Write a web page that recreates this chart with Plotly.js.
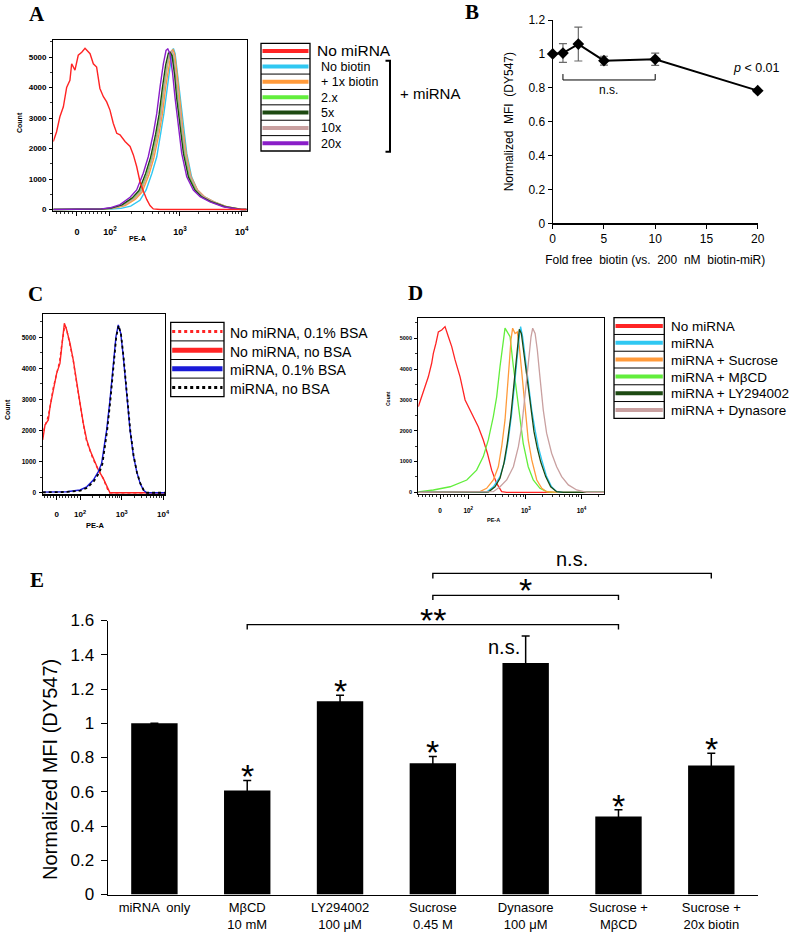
<!DOCTYPE html>
<html><head><meta charset="utf-8">
<script src="https://cdn.plot.ly/plotly-3.0.1.min.js"></script>
<style>html,body{margin:0;padding:0;background:#fff}#g{width:800px;height:933px}</style>
</head><body><div id="g"></div>
<script>
// ================= DATA =================
// Flow axis tick labels (biexponential display, channel scale 0-1000)
const flowTickText = ['0', '10<sup>2</sup>', '10<sup>3</sup>', '10<sup>4</sup>'];
const flowCountTicks = [0, 1000, 2000, 3000, 4000, 5000];

// ---- Panel A: histograms (channel, count) ----
const aLegend = ['No miRNA', 'No biotin', '+ 1x biotin', '2.x', '5x', '10x', '20x'];
const aColors = ['#ff2424', '#30c8f2', '#ff9a3a', '#62ee3c', '#1d4a12', '#c9a0a0', '#8a1ec8'];
const aNoMiRNA_x = [0,17,34,52,69,86,95,112,129,147,164,181,190,207,224,241,259,276,293,310,328,345,371,397,414,431,448,466,483,500,517,552,1000];
const aNoMiRNA_y = [2230,2550,3040,3370,4000,4240,4780,4570,5060,5160,5290,5160,5110,4780,4670,3970,3700,3530,3260,2830,2500,2450,2230,2070,1790,1410,920,600,330,130,20,0,0];
const aNoBiotin_x = [0,200,300,350,400,448,480,510,535,555,572,590,605,615,621,630,642,655,672,690,715,745,780,830,890,970,1000];
const aNoBiotin_y = [0,5,15,35,110,300,640,1190,1730,2490,3150,4020,4780,5220,5280,5110,4460,3690,2710,1840,1070,640,420,250,90,0,0];
const a1x_x = [0,150,250,312,372,425,460,494,520,546,564,581,598,611,619,628,640,652,669,687,712,746,782,832,897,978,1000];
const a1x_y = [0,5,12,38,130,340,580,1130,1690,2460,3130,4010,4770,5200,5240,5090,4450,3670,2700,1840,1070,640,415,250,90,0,0];
const a2x_x = [0,150,250,305,362,415,450,484,510,536,554,571,588,602,610,620,633,645,662,680,706,740,775,826,893,975,1000];
const a2x_y = [0,5,15,40,140,360,600,1150,1700,2460,3100,3960,4700,5080,5110,5000,4400,3640,2680,1830,1060,630,410,245,90,0,0];
const a5x_x = [0,150,250,300,355,408,443,477,503,529,547,564,581,595,603,614,627,638,655,673,699,733,768,820,888,972,1000];
const a5x_y = [0,5,15,45,150,380,620,1170,1710,2470,3120,3990,4740,5130,5160,5050,4420,3650,2690,1830,1060,630,410,245,90,0,0];
const a10x_x = [0,150,250,307,365,418,453,487,513,539,557,574,591,605,613,623,636,648,665,683,709,743,778,829,895,976,1000];
const a10x_y = [0,5,15,40,140,350,590,1140,1690,2450,3110,3990,4750,5160,5200,5060,4430,3660,2700,1840,1070,635,415,250,90,0,0];
const a20x_x = [0,150,250,293,345,397,431,465,491,517,535,552,569,583,592,603,617,629,646,664,690,724,759,810,879,966,1000];
const a20x_y = [0,5,20,55,160,400,640,1190,1730,2490,3150,4020,4780,5220,5270,5110,4460,3690,2710,1840,1070,640,420,250,90,0,0];

// ---- Panel B: normalized MFI vs fold free biotin ----
const bFold = [0, 1, 2.5, 5, 10, 20];
const bMFI  = [1.0, 1.005, 1.058, 0.96, 0.968, 0.783];
const bErr  = [0, 0.055, 0.1, 0.026, 0.036, 0.01];
const bNsFrom = 1, bNsTo = 10, bNsLevel = 0.846, bNsTip = 0.881;

// ---- Panel C ----
const cLegend = ['No miRNA, 0.1% BSA', 'No miRNA, no BSA', 'miRNA, 0.1% BSA', 'miRNA, no BSA'];
const cColors = ['#ff2424', '#ff2424', '#1a1ad8', '#000000'];
const cNoMiBSA_x = [0,15,40,58,85,110,138,152,165,180,193,205,220,248,275,303,330,358,385,412,452,492,532,548,1000];
const cNoMiBSA_y = [1800,2100,2400,2700,3350,3780,4220,4650,5080,5380,5300,5100,4760,4300,3600,2850,2260,1680,1400,1080,760,480,100,0,0];
const cNoMiNo_x = [0,19,46,60,87,114,141,155,168,177,196,209,223,250,278,305,332,360,387,414,455,495,536,550,1000];
const cNoMiNo_y = [1700,2180,2340,2770,3300,3840,4160,4590,5130,5450,5240,5070,4810,4270,3630,2880,2230,1700,1370,1110,730,460,90,0,0];
const cMiBSA_x = [0,196,305,360,414,455,482,495,523,550,577,599,618,638,659,687,714,741,769,796,823,850,1000];
const cMiBSA_y = [20,30,90,190,410,680,950,1280,2020,2980,4110,5020,5400,5130,4380,3140,2020,1210,670,310,90,0,0];
const cMiNo_x = [0,200,310,365,420,462,488,500,527,553,580,601,620,640,661,689,716,743,771,798,826,853,1000];
const cMiNo_y = [15,25,70,160,380,640,920,1250,2000,2960,4080,5000,5380,5110,4360,3120,2000,1200,650,300,80,0,0];

// ---- Panel D ----
const dLegend = ['No miRNA', 'miRNA', 'miRNA + Sucrose', 'miRNA + MβCD', 'miRNA + LY294002', 'miRNA + Dynasore'];
const dColors = ['#ff2424', '#30c8f2', '#ff9a3a', '#62ee3c', '#1d4a12', '#c9a0a0'];
const dNoMi_x = [0,18,36,54,72,81,95,108,126,144,162,180,198,225,252,278,296,323,350,372,395,422,449,476,1000];
const dNoMi_y = [2780,3100,3430,3750,4190,4510,4840,5210,5270,5380,5050,4730,4300,3750,3000,2670,2460,2130,1700,1270,720,290,20,0,0];
const dMi_x = [0,368,404,440,467,485,503,521,533,544,551,562,575,592,611,629,646,665,691,718,745,781,1000];
const dMi_y = [0,10,180,510,1050,1700,2560,3540,4400,5050,5380,5050,4400,3430,2670,2020,1480,1050,510,180,20,0,0];
const dSuc_x = [0,332,368,404,431,449,467,479,490,499,508,521,533,544,557,575,592,611,638,665,691,745,1000];
const dSuc_y = [0,20,130,400,830,1480,2350,3210,4190,4950,5330,5160,5210,4730,3860,2670,1700,1050,400,130,20,0,0];
const dMbcd_x = [0,9,81,171,261,314,350,377,404,422,440,455,467,479,494,512,530,548,565,592,619,655,691,727,1000];
const dMbcd_y = [20,20,75,180,400,720,1160,1700,2460,3100,4080,4840,5330,5210,5050,4080,3210,2350,1590,830,400,130,20,0,0];
const dLy_x = [0,377,413,440,461,479,498,512,526,537,544,555,569,587,605,623,641,659,686,713,745,781,1000];
const dLy_y = [0,10,180,455,940,1590,2460,3320,4190,4950,5290,5160,4510,3540,2670,1970,1430,990,510,180,20,0,0];
const dDyn_x = [0,332,404,440,476,512,539,557,569,584,598,607,616,629,641,655,673,691,718,745,772,808,853,907,942,1000];
const dDyn_y = [0,0,20,180,400,830,1480,2130,2780,3540,4510,5050,5330,5160,4620,3750,2670,1920,1270,830,510,240,75,0,0,0];

// ---- Panel E ----
const eCats   = ['miRNA only', 'MβCD 10 mM', 'LY294002 100 μM', 'Sucrose 0.45 M', 'Dynasore 100 μM', 'Sucrose + MβCD', 'Sucrose + 20x biotin'];
const eLabels = ['miRNA  only', 'MβCD<br>10 mM', 'LY294002<br>100 μM', 'Sucrose<br>0.45 M', 'Dynasore<br>100 μM', 'Sucrose +<br>MβCD', 'Sucrose +<br>20x biotin'];
const eVals = [1.0, 0.608, 1.128, 0.767, 1.352, 0.456, 0.753];
const eErr  = [0, 0.058, 0.035, 0.039, 0.158, 0.039, 0.072];
const eSig  = ['', '*', '*', '*', 'n.s.', '*', '*'];
const eBrFrom  = [1, 3, 3];
const eBrTo    = [5, 5, 6];
const eBrLevel = [1.576, 1.747, 1.875];
const eBrTip   = [1.548, 1.719, 1.845];
const eBrLabel = ['**', '*', 'n.s.'];

// ================= DRAWING =================
const W = 800, H = 933;
const px = v => v / W;
const py = v => 1 - v / H;
const FONT = 'Liberation Sans, Arial, Helvetica, sans-serif';
const SERIF = 'Liberation Serif, Times New Roman, serif';

function minorTicks(t) {
  const out = [];
  const step = (t[1] - t[0]) / 8;
  for (let v = t[0] - step; v > 2; v -= step) out.push(v);
  for (let k = 1; k < 8; k++) out.push(t[0] + step * k);
  for (let k = 2; k < 10; k++) out.push(t[1] + (t[2] - t[1]) * Math.log10(k));
  for (let k = 2; k < 10; k++) out.push(t[2] + (t[3] - t[2]) * Math.log10(k));
  for (let k = 2; k < 10; k++) { const v = t[3] + (t[3] - t[2]) * Math.log10(k); if (v < 998) out.push(v); }
  return out;
}
function flowX(dom, ticks, anchor, fs, standoff) {
  return {domain: [px(dom[0]), px(dom[1])], range: [0, 1000], anchor, showline: true, mirror: true,
    linecolor: '#000', linewidth: 1.2, showgrid: false, zeroline: false,
    tickmode: 'array', tickvals: ticks, ticktext: flowTickText, ticks: 'outside', ticklen: 4, tickwidth: 1, tickcolor: '#000',
    minor: {tickmode: 'array', tickvals: minorTicks(ticks), ticks: 'outside', ticklen: 2, tickwidth: 0.8, tickcolor: '#000'},
    tickfont: {size: fs, family: FONT, weight: 'bold'}, ticklabelstandoff: standoff};
}
function flowY(dom, range, anchor, fs) {
  return {domain: [py(dom[1]), py(dom[0])], range, anchor, showline: true, mirror: true,
    linecolor: '#000', linewidth: 1.2, showgrid: false, zeroline: false,
    tickmode: 'array', tickvals: flowCountTicks, ticks: 'outside', ticklen: 3, tickwidth: 1, tickcolor: '#000',
    minor: {tickmode: 'linear', tick0: 0, dtick: 500, ticks: 'outside', ticklen: 2, tickwidth: 0.8, tickcolor: '#000'},
    tickfont: {size: fs, family: FONT, weight: 'bold'}, ticklabelstandoff: 1};
}
function line(x, y, color, w, dash, xa, ya) {
  return {type: 'scatter', mode: 'lines', x, y, xaxis: xa, yaxis: ya,
    line: {color, width: w, dash: dash || 'solid'}, hoverinfo: 'skip'};
}

const traces = [];
// A
const aSeries = [[aNoMiRNA_x, aNoMiRNA_y], [aNoBiotin_x, aNoBiotin_y], [a1x_x, a1x_y], [a2x_x, a2x_y], [a5x_x, a5x_y], [a10x_x, a10x_y], [a20x_x, a20x_y]];
[1, 2, 3, 5, 4, 6, 0].forEach(i => traces.push(line(aSeries[i][0], aSeries[i][1], aColors[i], 1.4, 'solid', 'x', 'y')));
// B
traces.push({type: 'scatter', mode: 'lines+markers', x: bFold, y: bMFI, xaxis: 'x2', yaxis: 'y2', cliponaxis: false,
  line: {color: '#000', width: 2}, marker: {symbol: 'diamond', size: 9, color: '#000'},
  error_y: {type: 'data', array: bErr, visible: true, color: '#6a6a6a', thickness: 1.2, width: 4}});
traces.push(line([bNsFrom, bNsFrom, bNsTo, bNsTo], [bNsTip, bNsLevel, bNsLevel, bNsTip], '#000', 1, 'solid', 'x2', 'y2'));
// C
const cSeries = [[cNoMiBSA_x, cNoMiBSA_y], [cNoMiNo_x, cNoMiNo_y], [cMiBSA_x, cMiBSA_y], [cMiNo_x, cMiNo_y]];
const cDash = ['dot', 'solid', 'solid', 'dot'];
[1, 0, 2, 3].forEach(i => traces.push(line(cSeries[i][0], cSeries[i][1], cColors[i], i === 3 ? 1.8 : 1.4, cDash[i], 'x3', 'y3')));
// D
const dSeries = [[dNoMi_x, dNoMi_y], [dMi_x, dMi_y], [dSuc_x, dSuc_y], [dMbcd_x, dMbcd_y], [dLy_x, dLy_y], [dDyn_x, dDyn_y]];
[0, 3, 2, 1, 4, 5].forEach(i => traces.push(line(dSeries[i][0], dSeries[i][1], dColors[i], 1.3, 'solid', 'x4', 'y4')));
// E bars
traces.push({type: 'bar', x: eCats, y: eVals, xaxis: 'x5', yaxis: 'y5', width: 0.5,
  marker: {color: '#000', line: {width: 0}},
  error_y: {type: 'data', array: eErr, visible: true, color: '#000', thickness: 1.5, width: 4}, hoverinfo: 'skip'});
// E brackets
eBrFrom.forEach((f, i) => traces.push(line([f, f, eBrTo[i], eBrTo[i]], [eBrTip[i], eBrLevel[i], eBrLevel[i], eBrTip[i]], '#000', 1.4, 'solid', 'x6', 'y6')));

// ---- layout geometry (pixels) ----
const eTop = 620.5, eBot = 894.5, eOverTop = 550;
const shapes = [], ann = [];
function txt(x, y, text, size, opts) {
  ann.push(Object.assign({xref: 'paper', yref: 'paper', x: px(x), y: py(y), text, showarrow: false,
    xanchor: 'center', yanchor: 'middle', font: {size, family: FONT, color: '#000'}}, opts || {}));
}
function legendTable(l, r, t, b, colors, dashes, widths) {
  const n = colors.length, h = (b - t) / n;
  shapes.push({type: 'rect', xref: 'paper', yref: 'paper', x0: px(l), x1: px(r), y0: py(b), y1: py(t), line: {color: '#000', width: 1.3}});
  for (let k = 1; k < n; k++) {
    shapes.push({type: 'line', xref: 'paper', yref: 'paper', x0: px(l), x1: px(r), y0: py(t + k * h), y1: py(t + k * h), line: {color: '#000', width: 1}});
  }
  colors.forEach((c, k) => {
    const yc = t + (k + 0.5) * h;
    shapes.push({type: 'line', xref: 'paper', yref: 'paper', x0: px(l + 1.5), x1: px(r - 1.5), y0: py(yc), y1: py(yc),
      line: {color: c, width: widths ? widths[k] : 4, dash: dashes ? dashes[k] : 'solid'}});
  });
  return h;
}

// Panel letters
[['A', 37, 14], ['B', 472, 12], ['C', 35, 294], ['D', 415, 293], ['E', 37, 580]].forEach(p =>
  txt(p[1], p[2], p[0], 21, {font: {size: 21, family: SERIF, weight: 'bold', color: '#000'}}));

// Legend A
const hA = legendTable(261, 310, 43.3, 151, aColors);
aLegend.forEach((s, k) => txt(k === 0 ? 315 : 319, 43.3 + (k + 0.5) * hA + (k === 0 ? 0 : 0.5), s, k === 0 ? 15.5 : 12.5, {xanchor: 'left'}));
shapes.push({type: 'path', xref: 'paper', yref: 'paper', line: {color: '#000', width: 2},
  path: `M ${px(385.5)} ${py(60.7)} L ${px(390)} ${py(60.7)} L ${px(390)} ${py(151.7)} L ${px(385.5)} ${py(151.7)}`});
txt(398, 93.3, '+ miRNA', 15, {xanchor: 'left'});
// Flow axis titles
txt(137, 238.5, 'PE-A', 7, {font: {size: 7, family: FONT, weight: 'bold', color: '#000'}});
txt(19, 123, 'Count', 7, {textangle: -90, font: {size: 7, family: FONT, weight: 'bold', color: '#000'}});
txt(95, 525.5, 'PE-A', 7.5, {font: {size: 7.5, family: FONT, weight: 'bold', color: '#000'}});
txt(7, 410, 'Count', 7, {textangle: -90, font: {size: 7, family: FONT, weight: 'bold', color: '#000'}});
txt(493, 520, 'PE-A', 5.5, {font: {size: 5.5, family: FONT, weight: 'bold', color: '#000'}});
txt(388, 399, 'Count', 5, {textangle: -90, font: {size: 5, family: FONT, weight: 'bold', color: '#000'}});

// Legend C
const hC = legendTable(170.7, 224, 322.3, 396.7, cColors, ['dot', 'solid', 'solid', 'dot'], [3, 5, 5, 3]);
cLegend.forEach((s, k) => txt(228, 322.3 + (k + 0.5) * hC + 1.5, s, 14, {xanchor: 'left'}));
// Legend D
const hD = legendTable(614, 664.3, 317.7, 418.3, dColors);
dLegend.forEach((s, k) => txt(669.3, 317.7 + (k + 0.5) * hD + 0.8, s, 13.5, {xanchor: 'left'}));

// Panel B annotations
ann.push({xref: 'x2', yref: 'y2', x: 5.42, y: 0.787, text: 'n.s.', showarrow: false, font: {size: 12, family: FONT, color: '#000'}});
ann.push({xref: 'x2', yref: 'y2', x: 19.9, y: 0.915, text: '<i>p</i> < 0.01', showarrow: false, font: {size: 12.5, family: FONT, color: '#000'}});

// Panel E significance marks
eSig.forEach((s, i) => {
  if (!s) return;
  if (s === 'n.s.') {
    ann.push({xref: 'x5', yref: 'y5', x: eCats[i], y: eVals[i] + eErr[i] / 2, text: s, showarrow: false,
      xshift: -22, yshift: 2, font: {size: 20, family: FONT, color: '#000'}});
  } else {
    ann.push({xref: 'x5', yref: 'y5', x: eCats[i], y: eVals[i] + eErr[i], text: s, showarrow: false,
      yanchor: 'middle', yshift: 4, font: {size: 34, family: FONT, color: '#000'}});
  }
});
eBrLabel.forEach((s, i) => {
  const star = s.indexOf('*') >= 0;
  ann.push({xref: 'x6', yref: 'y6', x: (eBrFrom[i] + eBrTo[i]) / 2, y: eBrLevel[i], text: s, showarrow: false,
    yanchor: 'middle', yshift: star ? 5 : 14, font: {size: star ? 34 : 20, family: FONT, color: '#000'}});
});
txt(50, 770, 'Normalized MFI (DY547)', 20, {textangle: -90});

const layout = {
  width: W, height: H, margin: {l: 0, r: 0, t: 0, b: 0}, showlegend: false,
  paper_bgcolor: '#fff', plot_bgcolor: 'rgba(0,0,0,0)', font: {family: FONT, color: '#000'},
  xaxis: flowX([53.3, 246.7], [122, 293, 655, 974], 'y', 9, 8),
  yaxis: flowY([40, 210.7], [-40, 5560], 'x', 8),
  xaxis2: {domain: [px(552.7), px(757.7)], range: [0, 20], anchor: 'y2', showline: true, linecolor: '#000', linewidth: 1.2,
    showgrid: false, zeroline: false, tickvals: [0, 5, 10, 15, 20], ticks: 'outside', ticklen: 4, tickcolor: '#000',
    tickfont: {size: 12}, title: {text: 'Fold free  biotin (vs.  200  nM  biotin-miR)', font: {size: 12}, standoff: 10}},
  yaxis2: {domain: [py(223.3), py(20)], range: [0, 1.2], anchor: 'x2', showline: true, linecolor: '#000', linewidth: 1.2,
    showgrid: false, zeroline: false, tick0: 0, dtick: 0.2, ticks: 'outside', ticklen: 4, tickcolor: '#000',
    tickfont: {size: 12}, title: {text: 'Normalized  MFI  (DY547)', font: {size: 12}, standoff: 12}},
  xaxis3: flowX([42.7, 165], [114, 305, 646, 984], 'y3', 8, 8),
  yaxis3: flowY([314.3, 494.3], [-50, 5740], 'x3', 6.5),
  xaxis4: flowX([418.3, 604], [117, 269, 579, 879], 'y4', 6.5, 6),
  yaxis4: flowY([317.7, 494], [-55, 5670], 'x4', 5.5),
  xaxis5: {domain: [px(108), px(757.7)], type: 'category', range: [-0.5, 6.5], anchor: 'y5', showline: true,
    linecolor: '#000', linewidth: 1.5, showgrid: false, zeroline: false, ticks: '',
    tickmode: 'array', tickvals: eCats, ticktext: eLabels, tickfont: {size: 13}, ticklabelstandoff: 0},
  yaxis5: {domain: [py(eBot), py(eTop)], range: [0, 1.6], anchor: 'x5', showline: true, linecolor: '#000', linewidth: 1.5,
    showgrid: false, zeroline: false, tick0: 0, dtick: 0.2, ticks: 'outside', ticklen: 6, tickcolor: '#000',
    tickfont: {size: 17}, ticklabelstandoff: 3},
  xaxis6: {domain: [px(108), px(757.7)], range: [-0.5, 6.5], anchor: 'y6', visible: false},
  yaxis6: {domain: [py(eBot), py(eOverTop)], range: [0, 1.6 * (eBot - eOverTop) / (eBot - eTop)], anchor: 'x6', visible: false},
  shapes, annotations: ann
};
Plotly.newPlot('g', traces, layout, {staticPlot: true});
</script></body></html>
